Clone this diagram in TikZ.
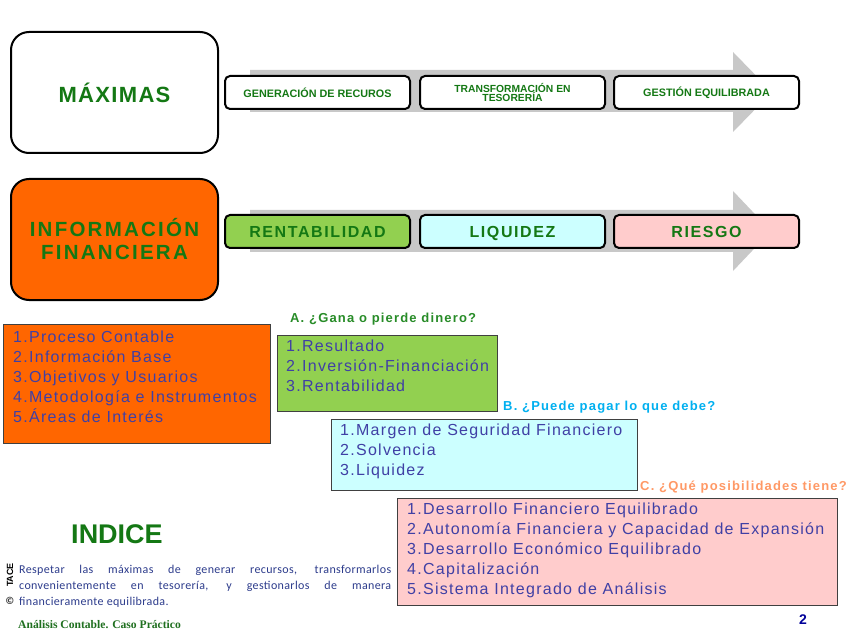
\documentclass[tikz,border=0pt]{standalone}
\usepackage{fontspec}
\setmainfont{Liberation Sans}
\newfontfamily\lsp[LetterSpace=8]{Liberation Sans}
\newfontfamily\lsh[LetterSpace=9]{Liberation Sans}
\newfontfamily\lst[LetterSpace=10]{Liberation Sans}
\newfontfamily\lsm[LetterSpace=6]{Liberation Sans}
\newfontfamily\lsi[LetterSpace=11]{Liberation Sans}
\newfontfamily\lsc{Liberation Sans}
\newfontfamily\parfont[LetterSpace=3]{Carlito}
\newfontfamily\serfont{Liberation Serif}
\newfontfamily\dejafont{DejaVu Sans}
\definecolor{orng}{RGB}{255,102,0}
\definecolor{grfill}{RGB}{146,208,80}
\definecolor{cyfill}{RGB}{204,255,255}
\definecolor{pkfill}{RGB}{255,204,204}
\definecolor{ttgreen}{RGB}{20,120,20}
\definecolor{listblue}{RGB}{64,64,165}
\definecolor{hdgreen}{RGB}{40,140,40}
\definecolor{hdcyan}{RGB}{0,176,240}
\definecolor{hdorange}{RGB}{255,153,102}
\definecolor{parblue}{RGB}{45,60,140}
\definecolor{bandgray}{RGB}{200,200,200}
\definecolor{boxedge}{RGB}{64,64,64}
\begin{document}
\begin{tikzpicture}[x=1pt,y=-1pt,
  bigbox/.style={draw=black,line width=2pt,rounded corners=18pt,minimum width=207pt,minimum height=121pt,inner sep=0pt},
  rowbox/.style={draw=black,line width=2pt,rounded corners=5pt,minimum height=33pt,inner sep=0pt,align=center},
  smalltitle/.style={font={\lsc\bfseries\fontsize{10.8}{10}\selectfont},text=ttgreen},
  bigtitle/.style={font={\lst\bfseries\fontsize{16}{16}\selectfont},text=ttgreen,text height=11.5pt,text depth=0pt},
  listbox/.style={draw=boxedge,line width=1.3pt,inner sep=0pt,anchor=north west},
  listtext/.style={font={\lsp\fontsize{16}{20}\selectfont},text=listblue,align=left,inner sep=0pt,anchor=north west},
  qhead/.style={font={\lsh\bfseries\fontsize{13}{13}\selectfont},inner sep=0pt,anchor=base west},
  band/.style={fill=bandgray,draw=none}
]
\useasboundingbox (0,0) rectangle (848,636);
\fill[white] (0,0) rectangle (848,636);

% gray arrows
\fill[band] (250,70) -- (733,70) -- (733,52) -- (772,92) -- (733,132) -- (733,112) -- (250,112) -- cycle;
\fill[band] (250,210) -- (733,210) -- (733,191) -- (771,231) -- (733,271) -- (733,252) -- (250,252) -- cycle;

% big boxes
\node[bigbox,fill=white,anchor=north west] (max) at (10,31) {};
\node[font={\lsm\bfseries\fontsize{22}{22}\selectfont},text=ttgreen] (maxt) at (max.center) {MÁXIMAS};
\node[bigbox,fill=orng,anchor=north west] (inf) at (10,178) {};
\node[font={\lsi\bfseries\fontsize{20.5}{23}\selectfont},text=ttgreen,align=center] (inft) at (inf.center) {INFORMACIÓN\\FINANCIERA};

% row 1 boxes
\node[rowbox,fill=white,minimum width=185pt,anchor=north west,smalltitle] (gen) at (224,75) {GENERACIÓN DE RECUROS};
\node[rowbox,fill=white,minimum width=185pt,anchor=north west,smalltitle,font={\lsc\bfseries\fontsize{10.3}{9.5}\selectfont}] (tra) at (419,75) {TRANSFORMACIÓN EN\\TESORERÍA};
\node[rowbox,fill=white,minimum width=185pt,anchor=north west,smalltitle] (ges) at (613,75) {GESTIÓN EQUILIBRADA};

% row 2 boxes
\node[rowbox,fill=grfill,minimum width=185pt,anchor=north west,bigtitle] (ren) at (224,214) {RENTABILIDAD};
\node[rowbox,fill=cyfill,minimum width=185pt,anchor=north west,bigtitle] (liq) at (419,214) {LIQUIDEZ};
\node[rowbox,fill=pkfill,minimum width=185pt,anchor=north west,bigtitle] (rie) at (613,214) {RIESGO};

% list boxes
\node[listbox,fill=orng,minimum width=267pt,minimum height=119pt] (proc) at (3,324) {};
\node[listtext] (proct) at (13,331) {1.Proceso Contable\\2.Información Base\\3.Objetivos y Usuarios\\4.Metodología e Instrumentos\\5.Áreas de Interés};

\node[qhead,text=hdgreen] (qa) at (290,322.5) {A. ¿Gana o pierde dinero?};
\node[listbox,fill=grfill,minimum width=220pt,minimum height=76pt] (ga) at (277,335) {};
\node[listtext] (gat) at (286,340) {1.Resultado\\2.Inversión-Financiación\\3.Rentabilidad};

\node[qhead,text=hdcyan] (qb) at (503,410.5) {B. ¿Puede pagar lo que debe?};
\node[listbox,fill=cyfill,minimum width=306pt,minimum height=71pt] (pb) at (331,419) {};
\node[listtext] (pbt) at (340,424) {1.Margen de Seguridad Financiero\\2.Solvencia\\3.Liquidez};

\node[qhead,text=hdorange] (qc) at (640,490.5) {C. ¿Qué posibilidades tiene?};
\node[listbox,fill=pkfill,minimum width=440pt,minimum height=107pt] (pc) at (397,498) {};
\node[listtext] (pct) at (407,503) {1.Desarrollo Financiero Equilibrado\\2.Autonomía Financiera y Capacidad de Expansión\\3.Desarrollo Económico Equilibrado\\4.Capitalización\\5.Sistema Integrado de Análisis};

% indice
\node[font={\lsc\bfseries\fontsize{27}{28}\selectfont},text=ttgreen,inner sep=0pt,anchor=base] (ind) at (117,543) {INDICE};

\node[font={\parfont\fontsize{12}{16}\selectfont},text=parblue,text width=372pt,align=justify,inner sep=0pt,anchor=north west] (par) at (19,565) {Respetar las máximas de generar recursos, transformarlos\linebreak convenientemente en tesorería, y gestionarlos de manera\linebreak financieramente equilibrada.};
\node[font={\lsc\bfseries\fontsize{9}{9}\selectfont},rotate=90,inner sep=0pt] (tace) at (10,575) {TACE};
\node[font={\dejafont\bfseries\fontsize{10}{10}\selectfont},text=black!75,inner sep=0pt] (copy) at (10,601) {©};

\node[font={\serfont\bfseries\fontsize{11.6}{12}\selectfont},text=hdgreen!80!black,inner sep=0pt,anchor=base west] (foot) at (18,628) {Análisis Contable. Caso Práctico};
\node[font={\lsc\bfseries\fontsize{14}{14}\selectfont},text={rgb,255:red,0;green,0;blue,153},inner sep=0pt] (pg) at (803,620) {2};
\end{tikzpicture}
\end{document}
